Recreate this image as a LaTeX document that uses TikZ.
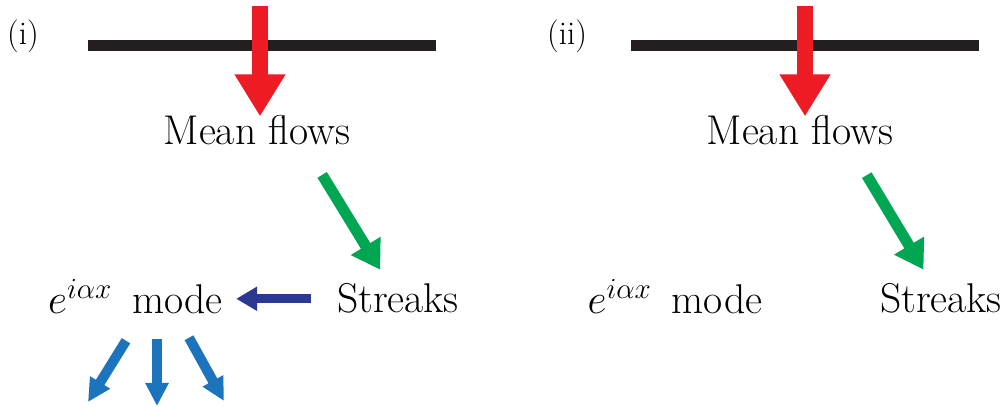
\documentclass[tikz,border=0pt]{standalone}
\usepackage{fix-cm}
\usepackage{fontspec}
\usetikzlibrary{arrows.meta, calc}
\definecolor{flowred}{RGB}{237,28,36}
\definecolor{streakgreen}{RGB}{0,166,81}
\definecolor{modenavy}{RGB}{43,57,144}
\definecolor{lossblue}{RGB}{28,117,188}
\definecolor{wallblack}{RGB}{35,31,32}

\begin{document}
\begin{tikzpicture}[
  x=0.5pt, y=-0.5pt,
  font=\fontsize{20.8}{25}\selectfont,
  lbl/.style={inner sep=0pt, anchor=base},
  panel/.style={inner sep=0pt, anchor=base, font=\fontsize{16.5}{20}\selectfont},
  wall/.style={line width=5.5pt, draw=wallblack},
  redarr/.style={-{Triangle[length=21pt, width=24pt]}, line width=8pt, draw=flowred},
  grnarr/.style={-{Triangle[length=14pt, width=16.5pt]}, line width=5.5pt, draw=streakgreen,
                 shorten <=26pt, shorten >=17pt},
  navyarr/.style={-{Triangle[length=10.5pt, width=11.5pt]}, line width=4.5pt, draw=modenavy},
  bluarr/.style={-{Triangle[length=11.5pt, width=11pt]}, line width=5pt, draw=lossblue}
]
\useasboundingbox (0,0) rectangle (1006,410);

% panel (i)
\node[panel] (labi) at (23,45) {(i)};
\draw[wall] (88,46) -- (436,46);
\node[lbl] (mean) at (257,145) {Mean flows};
\node[lbl] (streaks) at (398,313) {Streaks};
\node[lbl] (mode) at (135.5,314) {$e^{i\alpha x}$\hspace{0.48em}mode};
\coordinate (srci) at (260,6);
\coordinate (out1) at (88,402);
\coordinate (out2) at (157,406);
\coordinate (out3) at (224,401);

\draw[redarr, shorten >=-0.5pt] (srci) -- (srci |- mean.north);
\draw[grnarr] ($(mean.center)+(38,0)$) -- (streaks.center);
\draw[navyarr, shorten <=12.8pt, shorten >=6.5pt] (streaks.west) -- (streaks.west -| mode.east);
% energy leaving the mode
\draw[bluarr] ($(mode.south)+(-9.5,26)$) -- (out1);
\draw[bluarr] ($(mode.south)+(21.5,24)$) -- (out2);
\draw[bluarr] ($(mode.south)+(53.5,23)$) -- (out3);

% panel (ii)
\node[panel] (labii) at (567,45) {(ii)};
\draw[wall] (631,46) -- (979,46);
\node[lbl] (meanii) at (800,145) {Mean flows};
\node[lbl] (streaksii) at (941,313) {Streaks};
\node[lbl] (modeii) at (675,314) {$e^{i\alpha x}$\hspace{0.48em}mode};
\coordinate (srcii) at (805,6);

\draw[redarr, shorten >=-0.5pt] (srcii) -- (srcii |- meanii.north);
\draw[grnarr] ($(meanii.center)+(40,0)$) -- (streaksii.center);
\end{tikzpicture}
\end{document}
